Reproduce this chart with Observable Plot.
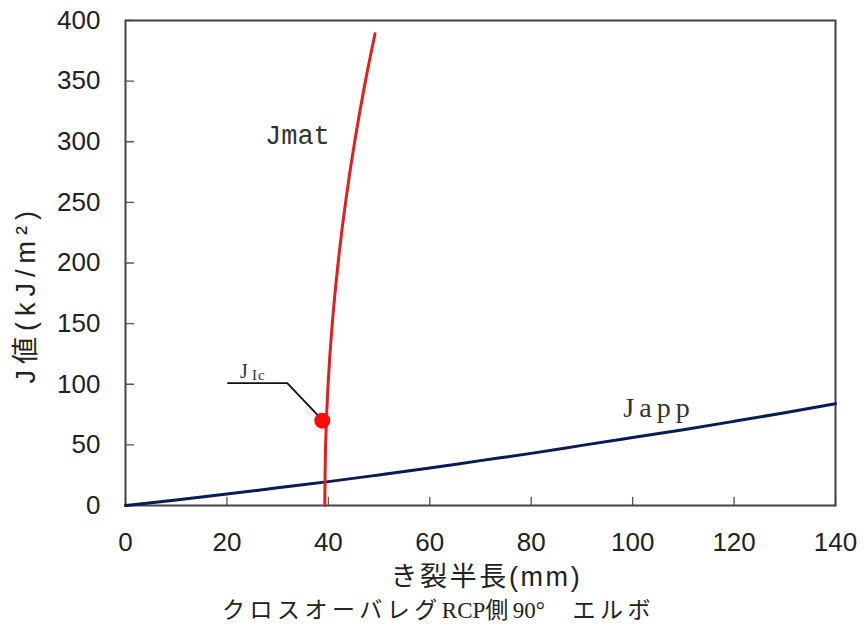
<!DOCTYPE html>
<html><head><meta charset="utf-8">
<script src="https://cdn.jsdelivr.net/npm/d3@7"></script>
<script src="https://cdn.jsdelivr.net/npm/@observablehq/plot@0.6"></script>
<style>
body{margin:0;background:#fff;}
#chart{width:865px;}
.caption{font-family:"Liberation Serif","Noto Sans CJK JP",serif;font-size:23px;line-height:32px;text-align:center;color:#222;width:865px;padding-left:12px;box-sizing:border-box;}
.caption .cjk{letter-spacing:4.5px;}
</style></head>
<body><div id="chart"></div><div class="caption" id="cap"></div>
<script>
const xTicks = [0, 20, 40, 60, 80, 100, 120, 140];
const yTicks = [0, 50, 100, 150, 200, 250, 300, 350, 400];
const xLabel = "き裂半長(mm)";
const yLabel = "J値(kJ/m²)";
const caption = "クロスオーバレグRCP側90°　エルボ";

// Jmat curve (crack half-length a [mm], J [kJ/m2])
const jmatA = [39.3, 39.46, 39.95, 40.77, 41.92, 43.39, 45.19, 47.31, 49.2];
const jmatJ = [0, 50, 100, 150, 200, 250, 300, 350, 389];
// Japp curve
const jappA = [0, 10, 20, 30, 40, 50, 60, 70, 80, 90, 100, 110, 120, 130, 140];
const jappJ = [0, 4.6, 9.4, 14.6, 19.7, 25.2, 30.9, 37, 43, 49.6, 56, 62.5, 69.4, 76.5, 84];
// JIc point
const jicA = [38.8];
const jicJ = [70];
// leader line for JIc label
const leaderA = [20.2, 31.9, 37.8];
const leaderJ = [100.9, 100.9, 75.0];
// label anchors
const jmatLabel = [{a: 33.9, j: 305, t: "Jmat"}];
const jappLabel = [{a: 105.2, j: 80, t: "Japp"}];
const jicLabel = [{a: 22.6, j: 110.1, t: "J", sub: "Ic"}];

const jmat = jmatA.map((a, i) => ({a, j: jmatJ[i]}));
const japp = jappA.map((a, i) => ({a, j: jappJ[i]}));
const jic = jicA.map((a, i) => ({a, j: jicJ[i]}));
const leader = leaderA.map((a, i) => ({a, j: leaderJ[i]}));

const sans = "'Liberation Sans', Arial, 'Noto Sans CJK JP', sans-serif";
const tickUp = {draw(ctx, l) { ctx.moveTo(0, 0); ctx.lineTo(0, -l); }};
const tickRight = {draw(ctx, l) { ctx.moveTo(0, 0); ctx.lineTo(l, 0); }};

const chart = Plot.plot({
  width: 865,
  height: 595,
  marginLeft: 125,
  marginRight: 30,
  marginTop: 20,
  marginBottom: 90,
  style: {fontFamily: sans, background: "#fff", color: "#222"},
  x: {domain: [0, 140], label: null},
  y: {domain: [0, 400], label: null},
  marks: [
    Plot.axisX({ticks: xTicks, tickSize: 0, tickPadding: 27, fontSize: 26, label: null, tickFormat: d => String(d)}),
    Plot.axisY({ticks: yTicks, tickSize: 0, tickPadding: 25, fontSize: 26, label: null, tickFormat: d => String(d)}),
    Plot.vector(xTicks, {x: d => d, frameAnchor: "bottom", length: 8, anchor: "start", shape: tickUp, stroke: "#555", strokeWidth: 1.3}),
    Plot.vector(yTicks, {y: d => d, frameAnchor: "left", length: 8, anchor: "start", shape: tickRight, stroke: "#555", strokeWidth: 1.3}),
    Plot.frame({stroke: "#444", strokeWidth: 2}),
    Plot.line(japp, {x: "a", y: "j", stroke: "#0c1a55", strokeWidth: 3, curve: "natural"}),
    Plot.line(jmat, {x: "a", y: "j", stroke: "#e0201f", strokeWidth: 3, curve: "natural"}),
    Plot.line(leader, {x: "a", y: "j", stroke: "#111", strokeWidth: 1.8}),
    Plot.dot(jic, {x: "a", y: "j", r: 8, fill: "#ff0a0a", stroke: "none"}),
    Plot.text(jmatLabel, {x: "a", y: "j", text: "t", fontFamily: "'Liberation Mono', monospace", fontSize: 27, fill: "#333", lineAnchor: "middle"}),
    Plot.text(jappLabel, {x: "a", y: "j", text: "t", fontFamily: "'Liberation Serif', serif", fontSize: 28, fill: "#333", lineAnchor: "middle"}),
    Plot.text(jicLabel, {x: "a", y: "j", text: "t", fontFamily: "'Liberation Serif', serif", fontSize: 20, fill: "#333", textAnchor: "start", lineAnchor: "middle"}),
    Plot.text(jicLabel, {x: "a", y: "j", text: "sub", fontFamily: "'Liberation Serif', serif", fontSize: 15, fill: "#333", textAnchor: "start", lineAnchor: "middle", dx: 12, dy: 3}),
    Plot.text([xLabel], {frameAnchor: "bottom-left", text: d => d, fontSize: 27, fill: "#222", dx: 265, dy: 72, textAnchor: "start", lineAnchor: "middle", fontFamily: sans}),
    Plot.text([yLabel], {frameAnchor: "bottom-left", text: d => d, fontSize: 27, fill: "#222", dx: -99, dy: -122, rotate: -90, textAnchor: "start", lineAnchor: "middle", fontFamily: sans})
  ]
});
document.getElementById("chart").appendChild(chart);

// letter spacing tweaks
const spacing = {"Japp": "5px", "Ic": "1px"};
spacing[xLabel] = "2.6px";
spacing[yLabel] = "6px";
d3.select(chart).selectAll("text").each(function() {
  const s = spacing[this.textContent];
  if (s) this.style.letterSpacing = s;
});

// caption: CJK runs spaced, Latin runs tight
const cap = d3.select("#cap");
caption.match(/[A-Za-z0-9°]+|[^A-Za-z0-9°]+/g).forEach(run => {
  cap.append("span").attr("class", /[A-Za-z0-9°]/.test(run) ? "lat" : "cjk").text(run);
});
</script>
</body></html>
